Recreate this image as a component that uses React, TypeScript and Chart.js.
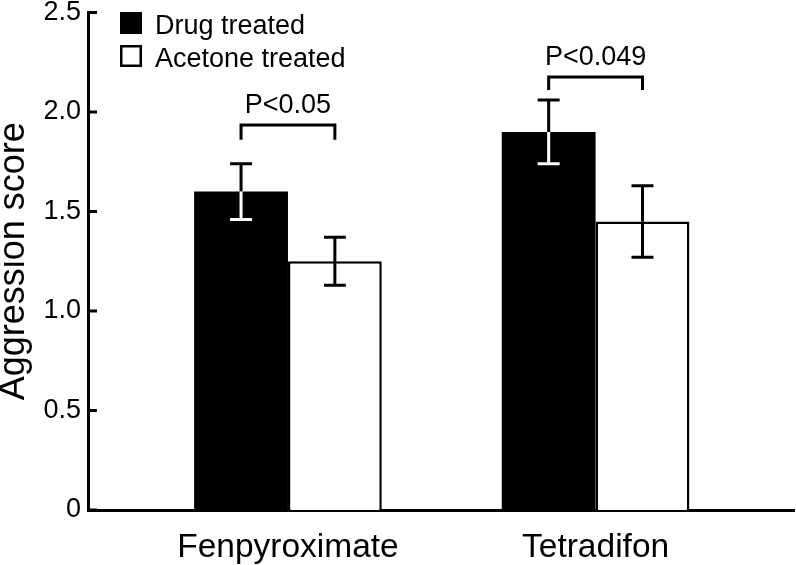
import React, { useEffect, useRef } from 'react';
import { Chart, registerables } from 'chart.js';

Chart.register(...registerables);

const categories = ['Fenpyroximate', 'Tetradifon'];
const seriesLabels = ['Drug treated', 'Acetone treated'];
const drugValues = [1.6, 1.9];
const drugErrors = [0.14, 0.16];
const acetoneValues = [1.25, 1.45];
const acetoneErrors = [0.12, 0.18];
const yTicks = [0, 0.5, 1.0, 1.5, 2.0, 2.5];
const yTickLabels = ['0', '0.5', '1.0', '1.5', '2.0', '2.5'];
const pLabels = ['P<0.05', 'P<0.049'];
const bracketTop = [1.935, 2.176];
const bracketLegBottom = [1.86, 2.11];

const FONT = '"Liberation Sans", Arial, Helvetica, sans-serif';

const annotationPlugin = {
  id: 'annotations',
  afterDatasetsDraw(chart: any) {
    const ctx = chart.ctx;
    const ys = chart.scales.y;
    const area = chart.chartArea;
    ctx.save();
    ctx.lineCap = 'butt';
    ctx.lineJoin = 'miter';
    ctx.lineWidth = 3;
    ctx.strokeStyle = '#000';
    // inward ticks on y axis
    yTicks.forEach((v) => {
      const py = ys.getPixelForValue(v);
      ctx.beginPath();
      ctx.moveTo(area.left, py);
      ctx.lineTo(area.left + 9, py);
      ctx.stroke();
    });
    // error bars
    const values = [drugValues, acetoneValues];
    const errors = [drugErrors, acetoneErrors];
    const lowerColors = ['#ffffff', '#000000'];
    const capHalf = 11;
    chart.data.datasets.forEach((_ds: any, di: number) => {
      const meta = chart.getDatasetMeta(di);
      meta.data.forEach((bar: any, i: number) => {
        const v = values[di][i];
        const e = errors[di][i];
        const bx = bar.x;
        const pv = ys.getPixelForValue(v);
        const pHi = ys.getPixelForValue(v + e);
        const pLo = ys.getPixelForValue(v - e);
        ctx.strokeStyle = '#000';
        ctx.beginPath();
        ctx.moveTo(bx, pv);
        ctx.lineTo(bx, pHi);
        ctx.moveTo(bx - capHalf, pHi);
        ctx.lineTo(bx + capHalf, pHi);
        ctx.stroke();
        ctx.strokeStyle = lowerColors[di];
        ctx.beginPath();
        ctx.moveTo(bx, pv);
        ctx.lineTo(bx, pLo);
        ctx.moveTo(bx - capHalf, pLo);
        ctx.lineTo(bx + capHalf, pLo);
        ctx.stroke();
      });
    });
    // significance brackets
    const m0 = chart.getDatasetMeta(0);
    const m1 = chart.getDatasetMeta(1);
    ctx.strokeStyle = '#000';
    ctx.fillStyle = '#000';
    ctx.font = `27px ${FONT}`;
    ctx.textAlign = 'center';
    ctx.textBaseline = 'alphabetic';
    categories.forEach((_c, i) => {
      const lx = m0.data[i].x;
      const rx = m1.data[i].x;
      const pt = ys.getPixelForValue(bracketTop[i]);
      const pb = ys.getPixelForValue(bracketLegBottom[i]);
      ctx.beginPath();
      ctx.moveTo(lx, pb);
      ctx.lineTo(lx, pt);
      ctx.lineTo(rx, pt);
      ctx.lineTo(rx, pb);
      ctx.stroke();
      ctx.fillText(pLabels[i], (lx + rx) / 2, pt - 12);
    });
    // legend
    const fills = ['#000000', '#ffffff'];
    const baselines = [34, 67];
    ctx.textAlign = 'left';
    ctx.font = `27px ${FONT}`;
    seriesLabels.forEach((label, i) => {
      const bxl = 120;
      const top = baselines[i] - 22;
      ctx.fillStyle = fills[i];
      ctx.fillRect(bxl, top, 22, 22);
      ctx.lineWidth = 2.5;
      ctx.strokeStyle = '#000';
      ctx.strokeRect(bxl + 1.25, top + 1.25, 19.5, 19.5);
      ctx.fillStyle = '#000';
      ctx.fillText(label, 155, baselines[i]);
    });
    ctx.restore();
  },
};

export default function App() {
  const canvasRef = useRef<HTMLCanvasElement | null>(null);

  useEffect(() => {
    if (!canvasRef.current) return;
    Chart.defaults.font.family = FONT;
    Chart.defaults.color = '#000';
    const chart = new Chart(canvasRef.current, {
      type: 'bar',
      data: {
        datasets: [
          {
            label: seriesLabels[0],
            data: categories.map((_c, i) => ({ x: i, y: drugValues[i] })),
            backgroundColor: '#000000',
            borderColor: '#000000',
            borderWidth: 0,
          },
          {
            label: seriesLabels[1],
            data: categories.map((_c, i) => ({ x: i, y: acetoneValues[i] })),
            backgroundColor: '#ffffff',
            borderColor: '#000000',
            borderWidth: 2.5,
          },
        ],
      },
      options: {
        animation: false,
        responsive: true,
        maintainAspectRatio: false,
        devicePixelRatio: 1,
        categoryPercentage: 0.61,
        barPercentage: 1.0,
        layout: { padding: { top: 12.5, right: 2, left: 0, bottom: 0 } },
        plugins: {
          legend: { display: false },
          tooltip: { enabled: false },
        },
        scales: {
          x: {
            type: 'linear',
            offset: false,
            min: -0.65,
            max: 1.645,
            grid: { display: false, drawTicks: false },
            border: { display: true, width: 3, color: '#000' },
            afterBuildTicks: (scale: any) => {
              scale.ticks = categories.map((_c, i) => ({ value: i }));
            },
            afterFit: (scale: any) => {
              scale.height = 55;
            },
            ticks: {
              color: '#000',
              font: { size: 33.5, lineHeight: 1 },
              padding: 21,
              maxRotation: 0,
              autoSkip: false,
              callback: (value: any) => categories[Math.round(Number(value))] ?? '',
            },
          },
          y: {
            min: 0,
            max: 2.5,
            grid: { display: false, drawTicks: false },
            border: { display: true, width: 3, color: '#000' },
            afterBuildTicks: (scale: any) => {
              scale.ticks = yTicks.map((v) => ({ value: v }));
            },
            afterFit: (scale: any) => {
              scale.width = 88;
            },
            ticks: {
              color: '#000',
              font: { size: 27, lineHeight: 0.4 },
              padding: 7,
              callback: (value: any) => {
                const idx = yTicks.indexOf(Number(value));
                return idx >= 0 ? yTickLabels[idx] : '';
              },
            },
            title: {
              display: true,
              text: 'Aggression score',
              color: '#000',
              font: { size: 36, lineHeight: 1 },
              padding: { top: -4, bottom: 0 },
            },
          },
        },
      },
      plugins: [annotationPlugin],
    } as any);
    return () => chart.destroy();
  }, []);

  return (
    <div style={{ position: 'absolute', left: 0, top: 0, width: 796, height: 565, background: '#fff' }}>
      <canvas ref={canvasRef} />
    </div>
  );
}
